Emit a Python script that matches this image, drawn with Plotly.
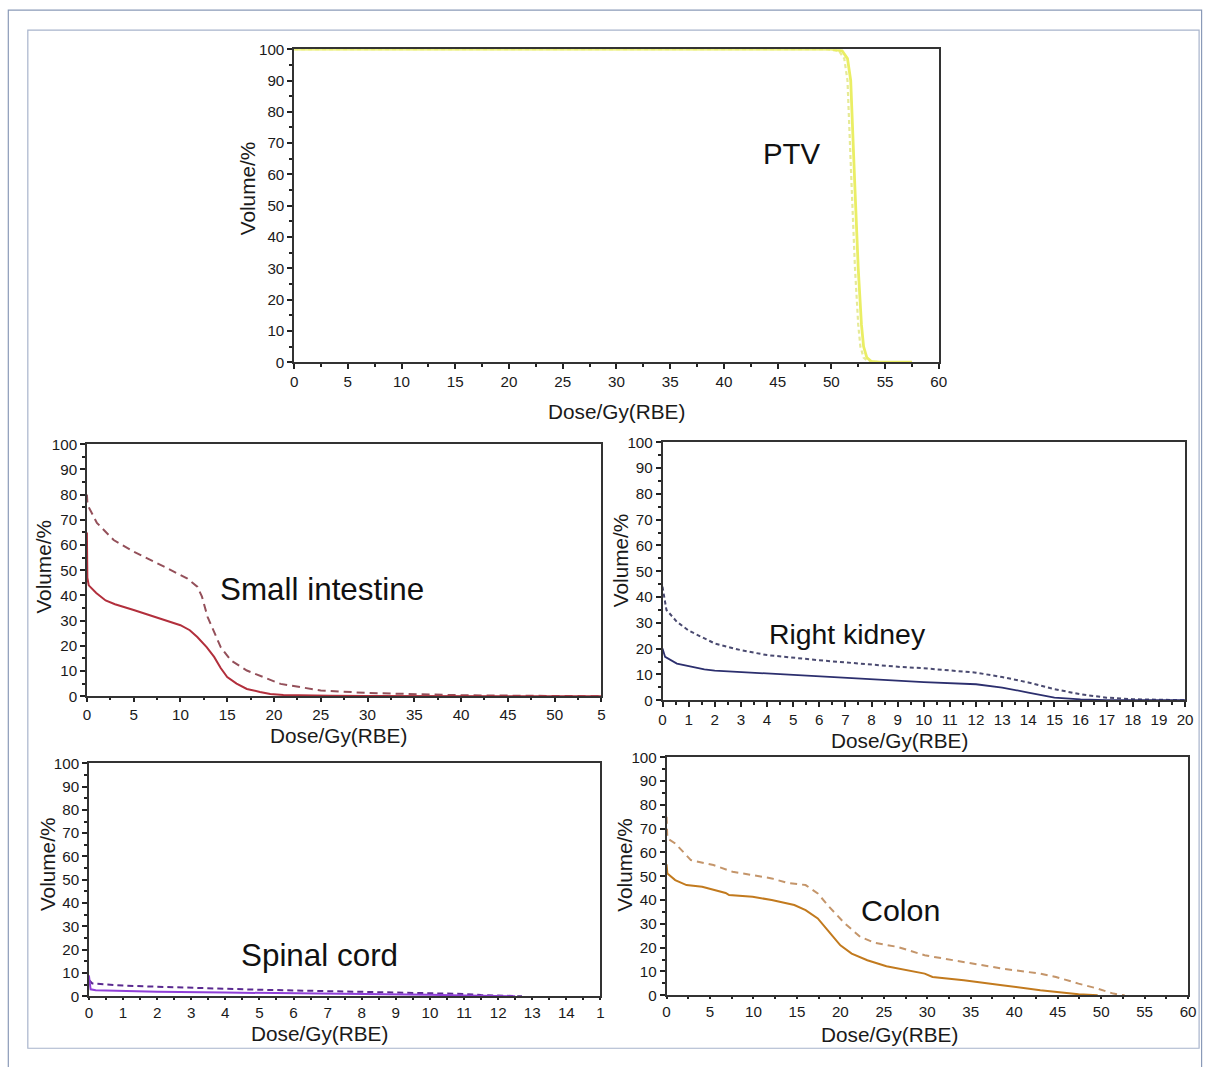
import plotly.graph_objects as go

W, H = 1209, 1067

# ---------------- data ----------------
ptv_dose_solid = [0, 50, 51, 51.5, 51.8, 52.0, 52.2, 52.5, 52.8, 53.0, 53.3, 53.7, 54.5, 57.5]
ptv_vol_solid = [100, 100, 99.5, 97, 90, 75, 55, 30, 12, 5, 1.5, 0.3, 0, 0]
ptv_dose_dash = [0, 49.5, 50.7, 51.2, 51.5, 51.7, 51.9, 52.2, 52.5, 52.7, 53.0, 53.4, 54.5, 57.5]
ptv_vol_dash = [100, 100, 99.5, 97, 90, 75, 55, 30, 12, 5, 1.5, 0.3, 0, 0]

si_dose_solid = [0, 0.05, 0.2, 1, 2, 3, 5, 7, 8.2, 10, 11, 11.8, 12.8, 13.6, 14.3, 15, 16, 17.1, 18.5, 19.6, 21, 23, 26, 30, 40, 55]
si_vol_solid = [65, 47, 44, 41, 38, 36.5, 34.2, 31.8, 30.2, 28.2, 26.2, 23.5, 19.5, 15.6, 11.2, 7.6, 5.0, 2.9, 1.7, 0.9, 0.5, 0.3, 0.15, 0.08, 0.03, 0]
si_dose_dash = [0, 0.05, 0.2, 1.07, 2.86, 5, 8.2, 10.7, 11.8, 12.3, 12.9, 14.3, 15.4, 17.1, 20.7, 25, 30, 35, 40, 50, 55]
si_vol_dash = [80, 77, 75, 68.8, 62, 57.4, 51.5, 46.8, 43.5, 39.5, 31.5, 19.5, 14.2, 10.2, 4.9, 2.3, 1.3, 0.8, 0.4, 0.1, 0]

rk_dose_solid = [0, 0.1, 0.55, 1, 1.6, 2, 4, 6, 8, 9, 10, 12, 13, 14, 15, 16, 17, 20]
rk_vol_solid = [20, 16.8, 14.2, 13.2, 12, 11.5, 10.4, 9.4, 8.2, 7.5, 7.0, 6.2, 4.9, 3.0, 1.0, 0.3, 0.05, 0]
rk_dose_dash = [0, 0.15, 0.55, 1, 2, 3, 4, 6, 9.1, 10, 12, 13, 14, 15, 16, 17, 18, 19, 20]
rk_vol_dash = [44, 35, 30.4, 27, 22, 19.4, 17.5, 15.5, 12.9, 12.4, 10.7, 9.0, 6.9, 4.3, 2.3, 1.0, 0.4, 0.1, 0]

sc_dose_solid = [0, 0.05, 0.2, 1, 2, 4, 6, 8, 9, 10, 11, 12, 12.5]
sc_vol_solid = [9, 3.0, 2.6, 2.2, 1.9, 1.6, 1.3, 1.1, 0.9, 0.6, 0.3, 0.1, 0]
sc_dose_dash = [0, 0.1, 0.5, 1, 2, 3, 4, 5, 6, 7, 8, 9, 10, 11, 11.5, 12, 12.7]
sc_vol_dash = [7, 5.5, 5.1, 4.6, 4.1, 3.6, 3.1, 2.8, 2.5, 2.2, 2.0, 1.7, 1.4, 1.0, 0.5, 0.2, 0]

co_dose_solid = [0, 0.1, 1, 2.3, 4.1, 5.4, 6.8, 7.2, 9.9, 12.1, 13.8, 14.7, 16, 17.4, 18.7, 20, 21.3, 23.1, 25.3, 27.5, 29.7, 30.6, 34.2, 38.6, 43, 47.4, 49.6]
co_vol_solid = [55, 51.2, 48.4, 46.3, 45.6, 44.5, 43, 42.1, 41.4, 40, 38.8, 37.9, 35.8, 32.3, 26.6, 21, 17.5, 14.7, 12.2, 10.5, 9.1, 7.7, 6.3, 4.2, 2.1, 0.4, 0]
co_dose_dash = [0, 0.1, 1, 2.8, 5.4, 7.6, 9.9, 12.1, 13.8, 16, 17.4, 18.7, 20.5, 22.3, 24, 26.6, 29.7, 34.2, 38.6, 43, 44.8, 47.4, 49.6, 51.4, 52.7]
co_vol_dash = [75, 65.9, 63.8, 56.8, 54.7, 51.9, 50.5, 49.1, 47.3, 46.3, 42.8, 37.2, 30.2, 24.5, 22, 20.3, 16.8, 14, 11.2, 9.1, 7.7, 4.9, 2.8, 0.7, 0]

# ---------------- reference-pixel -> paper mapping ----------------
AX, BX, AY, BY = 4.2, 0.989, 8.8, 0.984
FS = 1 / 0.987  # font compensation

def px(X):
    return ((X - AX) / BX) / W

def py(Y):
    return 1 - ((Y - AY) / BY) / H

def dom_x(a, b):
    return [px(a), px(b)]

def dom_y(top, bottom):
    return [py(bottom), py(top)]

panels = [
    dict(x=dom_x(294, 938), y=dom_y(49, 362), xr=[0, 60], dt=5, tl=5,
         xt=(616, 411), yt=(247, 188)),
    dict(x=dom_x(87, 601), y=dom_y(444, 696), xr=[0, 55], dt=5, tl=4,
         xt=(338, 735), yt=(43.5, 566)),
    dict(x=dom_x(662, 1184), y=dom_y(442, 700), xr=[0, 20], dt=1, tl=5,
         xt=(899, 740), yt=(619.5, 560)),
    dict(x=dom_x(89, 600), y=dom_y(763, 996), xr=[0, 15], dt=1, tl=2,
         xt=(319.5, 1033), yt=(47, 864)),
    dict(x=dom_x(666, 1187), y=dom_y(757, 995), xr=[0, 60], dt=5, tl=2,
         xt=(889, 1034), yt=(624, 864)),
]

fig = go.Figure()

series = [
    (1, ptv_dose_dash, ptv_vol_dash, "#e6ea96", "4px,3px", 2.2),
    (1, ptv_dose_solid, ptv_vol_solid, "#eaee64", "solid", 2.8),
    (2, si_dose_dash, si_vol_dash, "#94505a", "8px,5px", 2.0),
    (2, si_dose_solid, si_vol_solid, "#b22f3c", "solid", 2.0),
    (3, rk_dose_dash, rk_vol_dash, "#4a4a70", "4px,3px", 2.0),
    (3, rk_dose_solid, rk_vol_solid, "#2c2f6e", "solid", 1.8),
    (4, sc_dose_dash, sc_vol_dash, "#5a2a90", "6px,4px", 2.0),
    (4, sc_dose_solid, sc_vol_solid, "#9040d8", "solid", 2.0),
    (5, co_dose_dash, co_vol_dash, "#c4956a", "7px,5px", 2.0),
    (5, co_dose_solid, co_vol_solid, "#c27a1e", "solid", 2.0),
]
for idx, xs, ys, col, dash, w in series:
    sfx = "" if idx == 1 else str(idx)
    fig.add_trace(go.Scatter(x=xs, y=ys, mode="lines",
                             line=dict(color=col, dash=dash, width=w),
                             xaxis="x" + sfx, yaxis="y" + sfx, showlegend=False))

FAM = "Liberation Sans, Arial, sans-serif"
tickfont = dict(family=FAM, size=15 * FS, color="#1a1a1a")
titlefont = dict(family=FAM, size=20.5 * FS, color="#1a1a1a")

layout = {}
annotations = []
for i, p in enumerate(panels, start=1):
    sfx = "" if i == 1 else str(i)
    xa = dict(domain=p["x"], range=p["xr"], anchor="y" + sfx, dtick=p["dt"], tick0=0,
              ticks="outside", ticklen=p["tl"], tickwidth=1.5, tickcolor="#222",
              minor=dict(ticks="outside", ticklen=max(p["tl"] - 2, 2), dtick=p["dt"] / 2,
                         tickcolor="#222", tickwidth=1.5),
              showline=True, linecolor="#333", linewidth=1.5, mirror=True,
              showgrid=False, zeroline=False, tickfont=tickfont)
    ya = dict(domain=p["y"], range=[0, 100], anchor="x" + sfx, dtick=10, tick0=0,
              ticks="outside", ticklen=5, tickwidth=1.5, tickcolor="#222",
              minor=dict(ticks="outside", ticklen=3, dtick=5, tickcolor="#222", tickwidth=1.5),
              showline=True, linecolor="#333", linewidth=1.5, mirror=True,
              showgrid=False, zeroline=False, tickfont=tickfont)
    layout["xaxis" + sfx] = xa
    layout["yaxis" + sfx] = ya
    # axis titles
    annotations.append(dict(text="Dose/Gy(RBE)", x=px(p["xt"][0]), y=py(p["xt"][1]),
                            xref="paper", yref="paper", showarrow=False,
                            xanchor="center", yanchor="middle", font=titlefont))
    annotations.append(dict(text="Volume/%", x=px(p["yt"][0]), y=py(p["yt"][1]),
                            xref="paper", yref="paper", showarrow=False, textangle=-90,
                            xanchor="center", yanchor="middle", font=titlefont))

# clipped last tick labels, as in the reference
layout["xaxis2"]["tickvals"] = list(range(0, 56, 5))
layout["xaxis2"]["ticktext"] = [str(v) for v in range(0, 51, 5)] + ["5"]
layout["xaxis4"]["tickvals"] = list(range(0, 16))
layout["xaxis4"]["ticktext"] = [str(v) for v in range(0, 15)] + ["1"]

labels = [
    ("PTV", 791, 153, 29),
    ("Small intestine", 321.5, 589, 31),
    ("Right kidney", 847, 634, 28),
    ("Spinal cord", 319, 955, 31),
    ("Colon", 900, 910, 30),
]
for text, lx, ly, fs in labels:
    annotations.append(dict(text=text, x=px(lx), y=py(ly), xref="paper", yref="paper",
                            showarrow=False, xanchor="center", yanchor="middle",
                            font=dict(family=FAM, size=fs * FS, color="#111")))

shapes = [
    dict(type="rect", xref="paper", yref="paper", x0=px(8.5), x1=px(1200.5), y0=py(1100), y1=py(10),
         line=dict(color="#8a9ab8", width=1.2)),
    dict(type="rect", xref="paper", yref="paper", x0=px(28), x1=px(1198), y0=py(1048), y1=py(30),
         line=dict(color="#a8b4cc", width=1.2)),
]

fig.update_layout(width=W, height=H, margin=dict(l=0, r=0, t=0, b=0),
                  paper_bgcolor="white", plot_bgcolor="white",
                  annotations=annotations, shapes=shapes, **layout)

fig.write_html("out.html", config={"displayModeBar": False},
               post_script="document.body.style.margin='0';document.body.style.overflow='hidden';")
